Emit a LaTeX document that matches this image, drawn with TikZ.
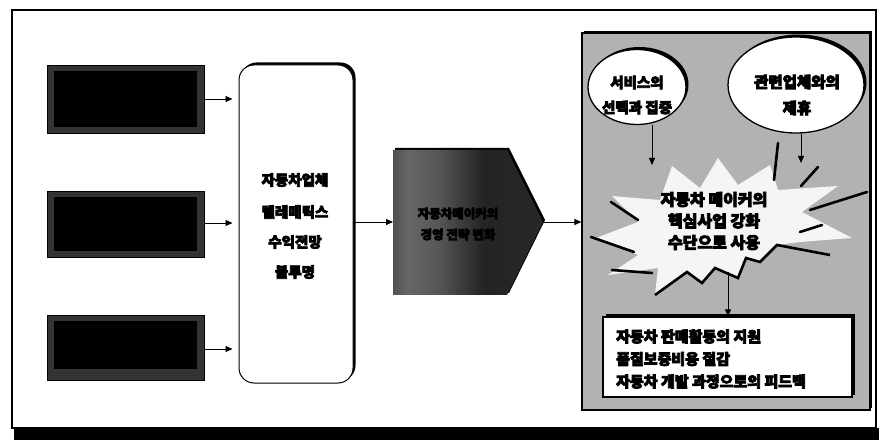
\documentclass[tikz,border=0pt]{standalone}
\usepackage{fontspec}
\newfontfamily\kr{Noto Sans CJK KR}[FakeBold=5]
\usetikzlibrary{arrows.meta,shadows,shapes.geometric}
\pgfdeclarehorizontalshading{pentshade}{100bp}{color(0bp)=(black!90); color(18bp)=(black!80); color(30bp)=(black!60); color(40bp)=(black!66); color(55bp)=(black!86); color(80bp)=(black!84); color(100bp)=(black!93)}
\tikzset{
  darkbox/.style={draw=black, fill=black!80, minimum width=157pt, inner sep=0pt},
  conn/.style={-{Triangle[length=7pt,width=6pt]}, line width=0.9pt},
  shadowed/.style={drop shadow={shadow xshift=2.5pt, shadow yshift=2.5pt, fill=black, opacity=1}},
  bubble/.style={ellipse, draw=black, line width=1.3pt, fill=white, shadowed, inner sep=0pt},
  krtext/.style={font=\kr\bfseries\fontsize{14.5}{16}\selectfont, align=center, inner sep=0pt},
  speed/.style={line width=2.6pt, line cap=round},
}
\begin{document}
\begin{tikzpicture}[x=1pt,y=-1pt]
\useasboundingbox (0,0) rectangle (880,443);
\fill[white] (0,0) rectangle (880,443);
% outer frame
\fill[black] (14,428) rectangle (879,440);
\draw[line width=1.4pt] (12,10) rectangle (876,428);
\draw[line width=2.5pt] (12,10) -- (12,428);

% left dark boxes
\node[darkbox, minimum height=68pt] (b1) at (125.5,99) {};
\node[darkbox, minimum height=66pt] (b2) at (125.5,224) {};
\node[darkbox, minimum height=65pt] (b3) at (125.5,347.5) {};
\fill[black] (54,71) rectangle (197,127);
\fill[black] (54,197) rectangle (197,251);
\fill[black] (54,321) rectangle (197,369);

% rounded box
\node[draw=black, line width=1pt, fill=white, rounded corners=15pt, minimum width=114pt, minimum height=318pt, inner sep=0pt, shadowed] (rr) at (296,224) {};
\node[krtext] (t1) at (295,180) {자동차업체};
\node[krtext] (t2) at (295,212) {텔레매틱스};
\node[krtext] (t3) at (295,242) {수익전망};
\node[krtext] (t4) at (295,272) {불투명};

\foreach \b/\yy in {b1/99, b2/223, b3/349}
  \draw[conn, shorten >=6pt] (\b.east |- 0,\yy) -- (rr.west |- 0,\yy);

% pentagon
\coordinate (pentL) at (393,222);
\coordinate (pentR) at (543,222);
\path[shading=pentshade, drop shadow={shadow xshift=2pt, shadow yshift=2pt, fill=black, opacity=1}]
  (393,150) -- (507,150) -- (543,222) -- (507,295) -- (393,295) -- cycle;
\node[krtext, text=black, font=\kr\bfseries\fontsize{12.5}{15}\selectfont] (pent) at (458,224) {자동차메이커의\\[6pt]경영 전략 변화};

\draw[conn] (rr.east |- 0,222) -- (pentL);

% right panel
\node[draw=black, line width=1.2pt, fill=black!30, minimum width=288pt, minimum height=377pt, inner sep=0pt, drop shadow={shadow xshift=2pt, shadow yshift=2pt, fill=black, opacity=1}] (panel) at (726,221.5) {};
\draw[conn] (pentR) -- (panel.west |- pentR);

% starburst
\fill[black!4] (596,238) -- (638,222) -- (612,196) -- (660,200) -- (672,166) -- (700,188)
  -- (718,158) -- (738,185) -- (770,165) -- (778,190) -- (838,186) -- (802,212)
  -- (852,238) -- (800,242) -- (777,245) -- (760,262) -- (746,258) -- (738,278)
  -- (715,268) -- (702,283) -- (687,272) -- (655,295) -- (658,268) -- (608,275)
  -- (638,255) -- cycle;
\draw[line width=2.6pt, line join=miter] (655,295) -- (687,272) -- (702,283) -- (715,268)
  -- (738,278) -- (746,258) -- (760,262) -- (777,245) -- (830,255);
\draw[speed] (778,143) -- (774,180);
\draw[speed] (818,167) -- (801,186);
\draw[speed] (867,192) -- (810,210);
\draw[speed] (822,225) -- (800,232);
\draw[speed] (611,202) -- (638,220);
\draw[speed] (591,237) -- (634,252);
\draw[speed] (612,270) -- (652,273);
\coordinate (burst) at (715,222);
\node[krtext, font=\kr\bfseries\fontsize{16}{21.5}\selectfont] (bursttext) at (714,221) {자동차 메이커의\\핵심사업 강화\\수단으로 사용};

% bubbles
\node[bubble, minimum width=98pt, minimum height=75pt] (e1) at (637,87) {};
\node[krtext, font=\kr\bfseries\fontsize{14.5}{25}\selectfont] (e1t) at (637,95) {서비스의\\선택과 집중};
\node[bubble, minimum width=136pt, minimum height=96pt] (e2) at (796,85) {};
\node[krtext, font=\kr\bfseries\fontsize{15.5}{26}\selectfont] (e2t) at (797,95) {관련업체와의\\제휴};

\draw[conn] (e1.south -| 652,0) -- (652,165);
\draw[conn] (e2.south -| 801,0) -- (801,163);

% bottom box
\node[draw=black, line width=1.2pt, fill=white, minimum width=249pt, minimum height=80pt, inner sep=0pt, shadowed] (res) at (727.5,357) {};
\node[krtext, font=\kr\bfseries\fontsize{15}{22.5}\selectfont, align=left, anchor=west] (rest) at (616,359) {자동차 판매활동의 지원\\품질보증비용 절감\\자동차 개발 과정으로의 피드백};
\draw[conn] (728,272) -- (res.north -| 728,0);
\end{tikzpicture}
\end{document}
